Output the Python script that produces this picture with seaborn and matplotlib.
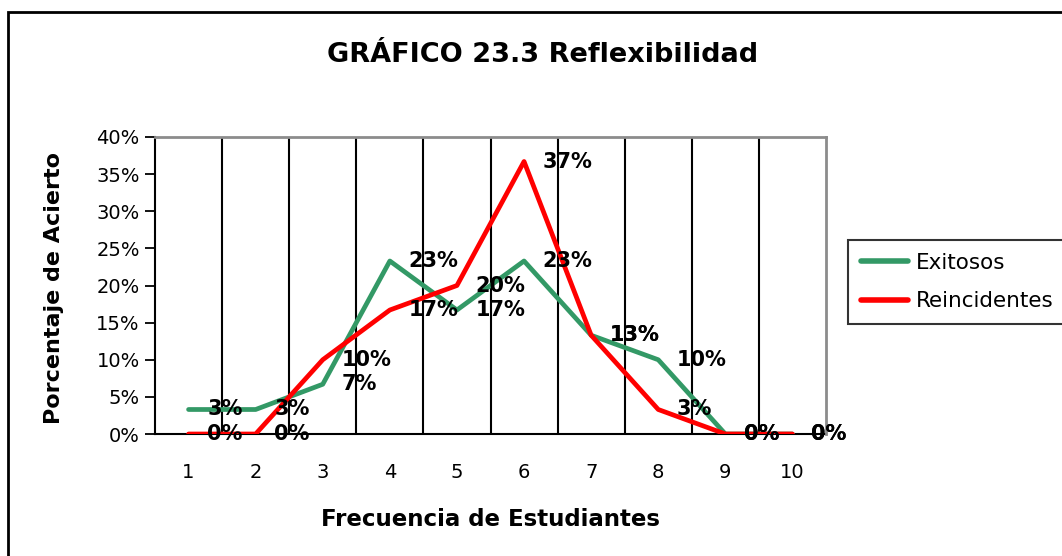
import matplotlib
matplotlib.use("Agg")
import matplotlib.pyplot as plt
import matplotlib.patches as mpatches
from matplotlib.lines import Line2D
import seaborn as sns
import pandas as pd
import numpy as np

categories = [1, 2, 3, 4, 5, 6, 7, 8, 9, 10]
exitosos = [0.033, 0.033, 0.067, 0.233, 0.167, 0.233, 0.133, 0.100, 0.0, 0.0]
reincidentes = [0.0, 0.0, 0.100, 0.167, 0.200, 0.367, 0.133, 0.033, 0.0, 0.0]
series_names = ["Exitosos", "Reincidentes"]
colors = {"Exitosos": "#339966", "Reincidentes": "#FF0000"}
y_ticks = [0, 0.05, 0.10, 0.15, 0.20, 0.25, 0.30, 0.35, 0.40]

title = "GRÁFICO 23.3 Reflexibilidad"
xlabel = "Frecuencia de Estudiantes"
ylabel = "Porcentaje de Acierto"

sns.set_theme(style="white")
plt.rcParams['font.family'] = ['DejaVu Sans']
plt.rcParams.update({"text.color": "black", "axes.labelcolor": "black",
                     "xtick.color": "black", "ytick.color": "black"})

df = pd.DataFrame({
    "x": categories * 2,
    "v": exitosos + reincidentes,
    "serie": [series_names[0]] * len(categories) + [series_names[1]] * len(categories),
})

fig = plt.figure(figsize=(10.62, 5.56), dpi=100)
ax = fig.add_axes([155/1062, 1-434/556, (826-155)/1062, (434-137)/556])

sns.lineplot(data=df, x="x", y="v", hue="serie", palette=colors,
             linewidth=3.4, ax=ax, legend=False, sort=False, zorder=3)

ax.set_xlim(0.5, 10.5)
ax.set_ylim(0, 0.40)
ax.set_xticks(categories)
ax.set_xticklabels([str(c) for c in categories], fontsize=14)
ax.set_xticks(np.arange(0.5, 11, 1.0), minor=True)
ax.tick_params(axis="x", which="major", length=0, pad=21)
ax.tick_params(axis="x", which="minor", length=7, width=1.3, color="black", direction="out")
ax.set_yticks(y_ticks)
ax.set_yticklabels([f"{int(round(t*100))}%" for t in y_ticks], fontsize=14)
ax.tick_params(axis="y", which="major", length=7, width=1.3, color="black", direction="out", pad=4, left=True)

for b in np.arange(1.5, 10.5, 1.0):
    ax.axvline(b, color="black", lw=1.5, zorder=1)

for s in ["left", "bottom"]:
    ax.spines[s].set_color("black")
    ax.spines[s].set_linewidth(1.5)
for s in ["top", "right"]:
    ax.spines[s].set_color("#8c8c8c")
    ax.spines[s].set_linewidth(2)
ax.spines["bottom"].set_zorder(2)

ax.set_xlabel(xlabel, fontsize=16.5, fontweight="bold")
ax.set_ylabel(ylabel, fontsize=16, fontweight="bold")
ax.xaxis.set_label_coords(0.5, -0.25)
ax.yaxis.set_label_coords(-0.135, 0.49)

for vals in (exitosos, reincidentes):
    for c, v in zip(categories, vals):
        ax.text(c + 0.28, v, f"{int(round(v*100))}%", fontsize=15, fontweight="bold",
                ha="left", va="center", zorder=5, color="black")

fig.text(543/1062, 1-55/556, title, fontsize=19.5, fontweight="bold", ha="center", va="center")

handles = [Line2D([0], [0], color=colors[n], lw=4) for n in series_names]
leg = fig.legend(handles, series_names, loc="upper left",
                 bbox_to_anchor=(848/1062, 1-240/556), fontsize=15.5,
                 frameon=True, fancybox=False, handlelength=2.2,
                 borderpad=0.6, labelspacing=0.85, handletextpad=0.35,
                 borderaxespad=0)
leg.get_frame().set_edgecolor("black")
leg.get_frame().set_linewidth(1.5)

border = mpatches.Rectangle((8/1062, -0.05), 1.2, 1-12/556+0.05, transform=fig.transFigure,
                            fill=False, edgecolor="black", lw=2, clip_on=False)
fig.patches.append(border)

fig.savefig("out.png", dpi=100)
